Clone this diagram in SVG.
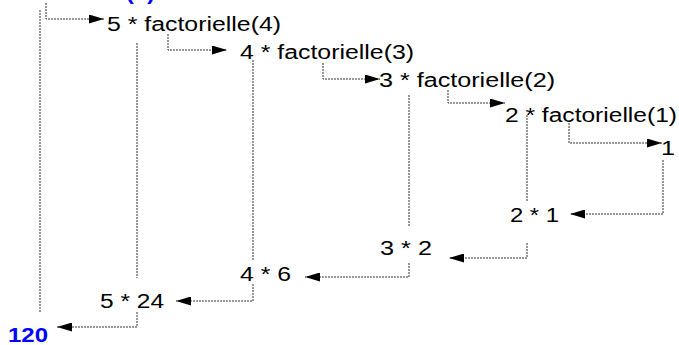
<svg xmlns="http://www.w3.org/2000/svg" width="679" height="345" viewBox="0 0 679 345">
<style>
text{font-family:"Liberation Sans",Arial,sans-serif;font-size:20px;fill:#000}
.res{font-weight:bold;fill:#0000ff}
.c{fill:none;stroke:#333;stroke-width:1;stroke-dasharray:2,1}
</style>
<defs>
<marker id="ah" markerUnits="userSpaceOnUse" markerWidth="15" markerHeight="9" refX="15" refY="4.5" orient="auto">
<path d="M0,0 L15,4.5 L0,9 Z" fill="#000" stroke="none"/>
</marker>
</defs>
<rect width="679" height="345" fill="#fff"/>
<g id="connectors">
<path class="c" d="M46,3 V19 H104" marker-end="url(#ah)"/>
<path class="c" d="M40,10 V312"/>
<path class="c" d="M168,34 V50 H227" marker-end="url(#ah)"/>
<path class="c" d="M137,43 V278"/>
<path class="c" d="M137,312 V327 H57" marker-end="url(#ah)"/>
<path class="c" d="M253,60 V260"/>
<path class="c" d="M253,284 V301 H176" marker-end="url(#ah)"/>
<path class="c" d="M323,63 V79 H380" marker-end="url(#ah)"/>
<path class="c" d="M409,95 V227"/>
<path class="c" d="M409,263 V277 H305" marker-end="url(#ah)"/>
<path class="c" d="M448,90 V103 H505" marker-end="url(#ah)"/>
<path class="c" d="M527,115 V202"/>
<path class="c" d="M527,243 V258 H449" marker-end="url(#ah)"/>
<path class="c" d="M569,123 V143 H662" marker-end="url(#ah)"/>
<path class="c" d="M663,160 V214 H570" marker-end="url(#ah)"/>
</g>
<g id="call5"><text class="res" x="155" y="0" text-anchor="end" textLength="141" lengthAdjust="spacingAndGlyphs">factorielle(5)</text></g>
<g id="call4"><text x="107" y="31" textLength="174" lengthAdjust="spacingAndGlyphs">5 * factorielle(4)</text></g>
<g id="call3"><text x="240" y="59" textLength="174" lengthAdjust="spacingAndGlyphs">4 * factorielle(3)</text></g>
<g id="call2"><text x="379" y="87" textLength="176" lengthAdjust="spacingAndGlyphs">3 * factorielle(2)</text></g>
<g id="call1"><text x="505" y="122" textLength="172" lengthAdjust="spacingAndGlyphs">2 * factorielle(1)</text></g>
<g id="base"><text x="661" y="155" textLength="14" lengthAdjust="spacingAndGlyphs">1</text></g>
<g id="ret2"><text x="510" y="222" textLength="49" lengthAdjust="spacingAndGlyphs">2 * 1</text></g>
<g id="ret3"><text x="380" y="255" textLength="52" lengthAdjust="spacingAndGlyphs">3 * 2</text></g>
<g id="ret4"><text x="240" y="281" textLength="51" lengthAdjust="spacingAndGlyphs">4 * 6</text></g>
<g id="ret5"><text x="100" y="308" textLength="64" lengthAdjust="spacingAndGlyphs">5 * 24</text></g>
<g id="result"><text class="res" x="8" y="342" textLength="40" lengthAdjust="spacingAndGlyphs">120</text></g>
</svg>
